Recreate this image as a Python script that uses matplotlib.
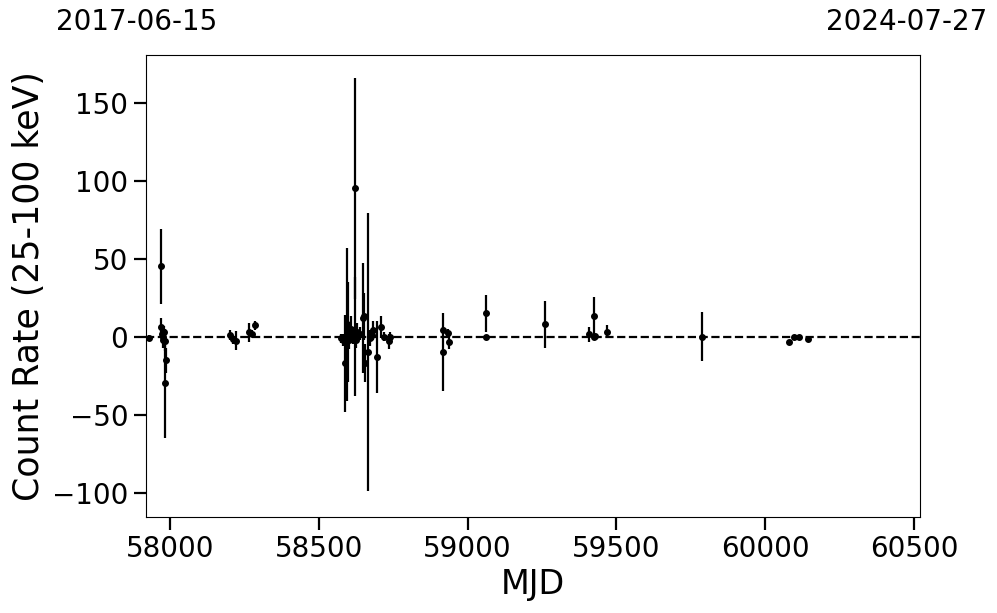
import matplotlib
matplotlib.use("Agg")
import matplotlib.pyplot as plt
import numpy as np

# MJD, count rate (25-100 keV), 1-sigma error
mjd = [57931, 57971, 57972, 57974, 57976, 57978, 57980, 57983, 57985, 57988,
       58204, 58213, 58224, 58266, 58278, 58287,
       58576, 58582, 58587, 58596, 58600, 58603, 58610, 58615, 58621, 58622,
       58625, 58630, 58640, 58648, 58652, 58655, 58665, 58672, 58678, 58684,
       58695, 58708, 58720, 58735, 58740,
       58917, 58918, 58935, 58937, 59062, 59063, 59261,
       59409, 59425, 59426, 59428, 59467,
       59786, 60080, 60096, 60113, 60143]
rate = [-1, 45, 6, 2, -2, 0, 3, -3, -30, -15,
        1, -1.7, -2.6, 2.8, 2, 7.3,
        -1, -2, -17, 8, 3, -2, 5, 0, 95, 0,
        -2, 3, 2, 12, 13, -17, -10, -1, 1, 4,
        -13, 6, 0, -3, 0,
        4.3, -9.6, 2.6, -3.2, 15, -0.4, 8,
        1.5, 13.3, 0, 0.5, 3.2,
        0, -3.2, -0.4, 0, -1.5]
err = [2, 24, 6, 4, 5, 3, 4, 6, 35, 8,
       3, 3, 6, 6, 2, 3,
       3, 4, 31, 49, 32, 6, 8, 5, 71, 38,
       5, 6, 4, 35, 15, 12, 89, 5, 4, 6,
       23, 7, 3, 5, 3,
       2, 25, 2, 5, 12, 0.5, 15,
       5, 12, 1, 1, 4,
       15.6, 1, 1, 1, 1]

xlim = (57919, 60518)
ylim = (-115.8, 180.4)
date_start = "2017-06-15"
date_end = "2024-07-27"

fig = plt.figure(figsize=(9.97, 6.13), dpi=100)
ax = fig.add_axes([0.146, 0.156, 0.7765, 0.754])

ax.errorbar(mjd, rate, yerr=err, fmt='o', color='black', ecolor='black',
            markersize=4, elinewidth=1.6, capsize=0, zorder=3)
ax.axhline(0, color='black', linestyle='--', linewidth=1.6, zorder=2)

ax.set_xlim(*xlim)
ax.set_ylim(*ylim)
ax.set_xticks([58000, 58500, 59000, 59500, 60000, 60500])
ax.set_yticks([-100, -50, 0, 50, 100, 150])
ax.tick_params(axis='both', which='major', labelsize=20, length=9, width=1.6)
ax.set_xlabel("MJD", fontsize=24)
ax.set_ylabel("Count Rate (25-100 keV)", fontsize=25)

fig.text(137 / 997, 1 - 22 / 613, date_start, fontsize=20, ha='center', va='center')
fig.text(907 / 997, 1 - 22 / 613, date_end, fontsize=20, ha='center', va='center')

fig.savefig("out.png", dpi=100)
